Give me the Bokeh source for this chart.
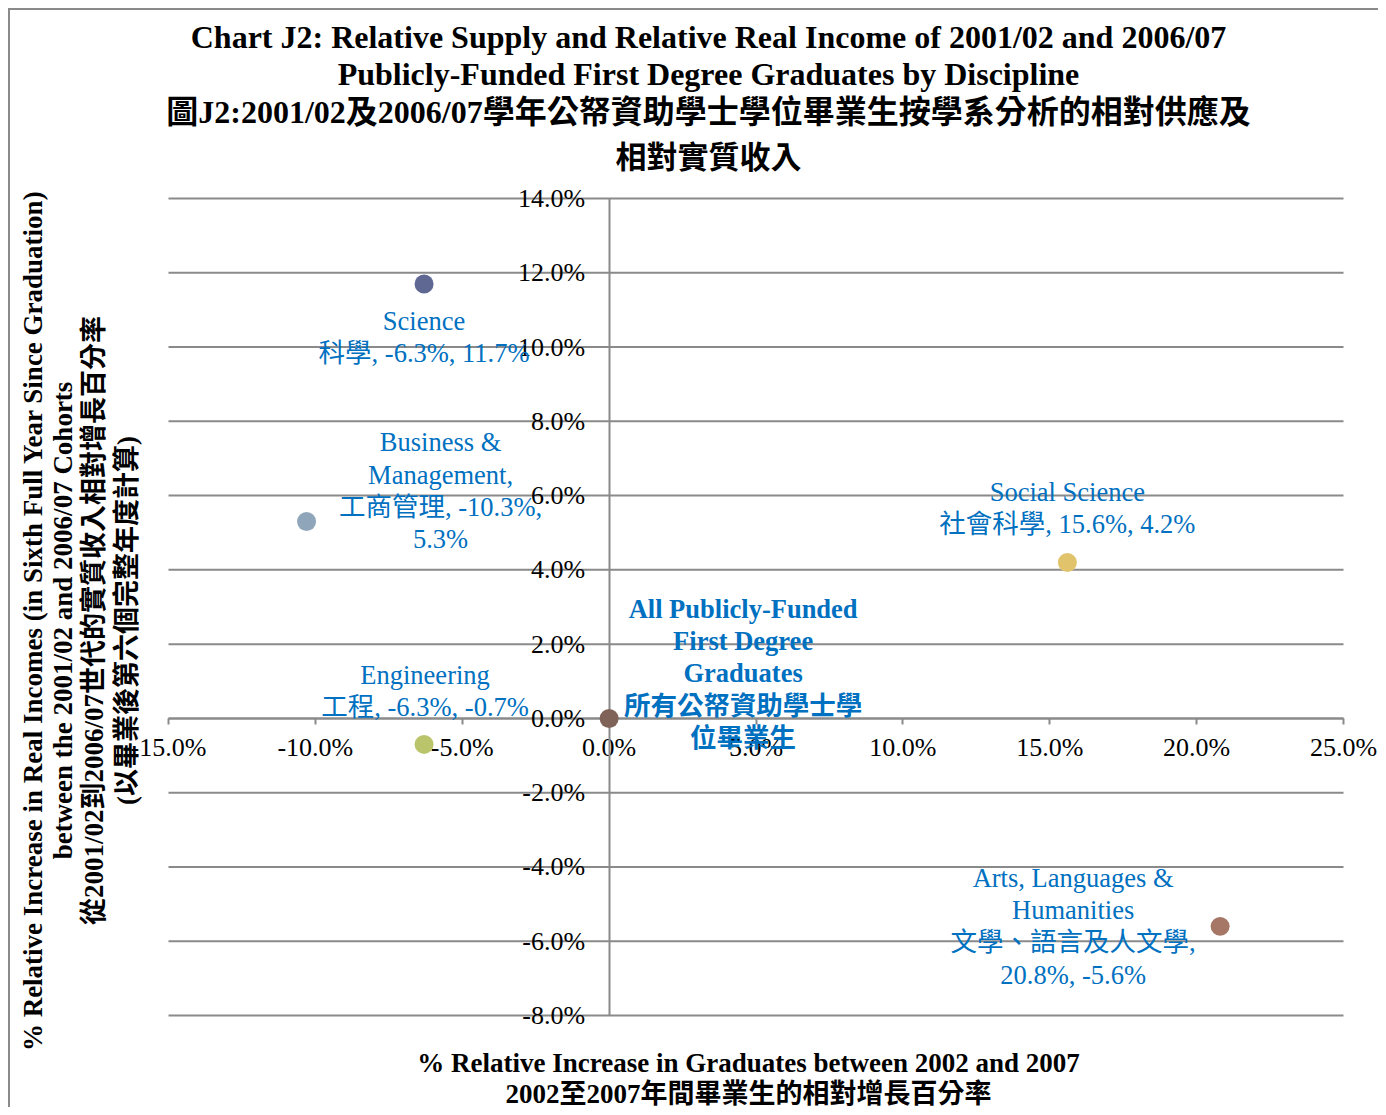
import math
from bokeh.plotting import figure
from bokeh.models import Label, FixedTicker, PrintfTickFormatter, ColumnDataSource, Range1d
from bokeh.core.properties import value
from bokeh.embed import file_html
from bokeh.resources import INLINE

# ---------------- data ----------------
disciplines = ["Science", "Business & Management", "Engineering",
               "All Publicly-Funded First Degree Graduates", "Social Science",
               "Arts, Languages & Humanities"]
graduates_growth = [-6.3, -10.3, -6.3, 0.0, 15.6, 20.8]   # % relative increase in graduates
income_growth = [11.7, 5.3, -0.7, 0.0, 4.2, -5.6]          # % relative increase in real incomes
point_labels = [
    "Science\n科學, -6.3%, 11.7%",
    "Business &\nManagement,\n工商管理, -10.3%,\n5.3%",
    "Engineering\n工程, -6.3%, -0.7%",
    "All Publicly-Funded\nFirst Degree\nGraduates\n所有公帑資助學士學\n位畢業生",
    "Social Science\n社會科學, 15.6%, 4.2%",
    "Arts, Languages &\nHumanities\n文學、語言及人文學,\n20.8%, -5.6%",
]
x_ticks = [-15, -10, -5, 0, 5, 10, 15, 20, 25]
y_ticks = [-8, -6, -4, -2, 0, 2, 4, 6, 8, 10, 12, 14]

title_lines = [
    "Chart J2: Relative Supply and Relative Real Income of 2001/02 and 2006/07",
    "Publicly-Funded First Degree Graduates by Discipline",
    "圖J2:2001/02及2006/07學年公帑資助學士學位畢業生按學系分析的相對供應及",
    "相對實質收入",
]
x_title_lines = [
    "% Relative Increase in Graduates between 2002 and 2007",
    "2002至2007年間畢業生的相對增長百分率",
]
y_title_lines = [
    "% Relative Increase in Real Incomes (in Sixth Full Year Since Graduation)",
    "between the 2001/02 and 2006/07 Cohorts",
    "從2001/02到2006/07世代的實質收入相對增長百分率",
    "(以畢業後第六個完整年度計算)",
]

# ---------------- layout & styles ----------------
FIG_W, FIG_H = 1378, 1107
PLOT_L, PLOT_R, PLOT_T, PLOT_B = 168, 1343, 198, 1015   # plot-area pixels

point_colors = ["#5F6892", "#8FA6BA", "#BAC46A", "#7F6359", "#E0C36A", "#A67666"]
label_dx = [0, 134, 1, 134, 0, -147]
label_dy = [53, -31, -53, -45, -54, 0]
label_weight = ["normal", "normal", "normal", "bold", "normal", "normal"]

SERIF = "Liberation Serif, Noto Sans CJK TC"
GRID = "#8a8a8a"
BLUE = "#0070C0"

x_lo, x_hi = x_ticks[0], x_ticks[-1]
y_lo, y_hi = y_ticks[0], y_ticks[-1]
sx = (PLOT_R - PLOT_L) / (x_hi - x_lo)
sy = (PLOT_B - PLOT_T) / (y_hi - y_lo)
x_range = Range1d(x_lo - PLOT_L / sx, x_hi + (FIG_W - PLOT_R) / sx)
y_range = Range1d(y_lo - (FIG_H - PLOT_B) / sy, y_hi + PLOT_T / sy)

p = figure(width=FIG_W, height=FIG_H, x_range=x_range, y_range=y_range,
           min_border=0, min_border_left=0, min_border_right=0,
           min_border_top=0, min_border_bottom=0,
           output_backend="svg", toolbar_location=None)
p.outline_line_color = None
p.background_fill_color = None
p.border_fill_color = None
p.styles = {"background": ("linear-gradient(#8a8a8a,#8a8a8a) 8px 8px / 100% 2px no-repeat, "
                           "linear-gradient(#8a8a8a,#8a8a8a) 8px 8px / 2px 100% no-repeat, #ffffff")}

# axes crossing at zero
p.xaxis.fixed_location = 0
p.yaxis.fixed_location = 0
p.xaxis.bounds = (x_lo, x_hi)
p.yaxis.bounds = (y_lo, y_hi)
p.xaxis.ticker = FixedTicker(ticks=x_ticks)
p.yaxis.ticker = FixedTicker(ticks=y_ticks)
p.xaxis.formatter = PrintfTickFormatter(format="%.1f%%")
p.yaxis.formatter = PrintfTickFormatter(format="%.1f%%")
for ax in (p.xaxis, p.yaxis):
    ax.level = "underlay"
    ax.axis_line_color = GRID
    ax.axis_line_width = 2
    ax.major_tick_line_color = GRID
    ax.major_tick_line_width = 2
    ax.minor_tick_line_color = None
    ax.major_label_text_font = SERIF
    ax.major_label_text_font_size = "26px"
    ax.major_label_text_color = "black"
p.xaxis.major_tick_out = 6
p.xaxis.major_tick_in = 0
p.xaxis.major_label_standoff = 9
p.yaxis.major_tick_out = 0
p.yaxis.major_tick_in = 0
p.yaxis.major_label_standoff = 24

p.xgrid.visible = False
p.ygrid.visible = False
# horizontal gridlines spanning the plot area only
p.segment(x0=x_lo, x1=x_hi, y0=y_ticks, y1=y_ticks, line_color=GRID, line_width=2,
          level="underlay")

src = ColumnDataSource(dict(x=graduates_growth, y=income_growth, name=disciplines,
                            label=point_labels, color=point_colors,
                            dx=label_dx, dy=label_dy, weight=label_weight))

p.scatter("x", "y", source=src, size=19, fill_color="color", line_color=None)
p.text("x", "y", text="label", source=src, x_offset="dx", y_offset="dy",
       text_align="center", text_baseline="middle",
       text_font=value(SERIF), text_font_size="26.5px", text_font_style="weight",
       text_color=BLUE, text_line_height=1.07)

# ---------- titles & axis titles (figure pixels, y measured upwards) ----------
title_sizes = ["32px", "32px", "32px", "31px"]
title_py = [36, 73, 111, 157]
for t, s, py in zip(title_lines, title_sizes, title_py):
    p.add_layout(Label(x=708, y=FIG_H - py, x_units="screen", y_units="screen", text=t,
                       text_align="center", text_baseline="middle",
                       text_font=SERIF, text_font_size=s, text_font_style="bold",
                       text_color="black"))

for t, py in zip(x_title_lines, [1062, 1093]):
    p.add_layout(Label(x=748, y=FIG_H - py, x_units="screen", y_units="screen", text=t,
                       text_align="center", text_baseline="middle",
                       text_font=SERIF, text_font_size="27px", text_font_style="bold",
                       text_color="black"))

for t, px in zip(y_title_lines, [32, 62, 93, 126]):
    p.add_layout(Label(x=px, y=FIG_H - 620, x_units="screen", y_units="screen", text=t,
                       angle=math.pi / 2, text_align="center", text_baseline="middle",
                       text_font=SERIF, text_font_size="27px", text_font_style="bold",
                       text_color="black"))

open("out.html", "w").write(file_html(p, INLINE))
